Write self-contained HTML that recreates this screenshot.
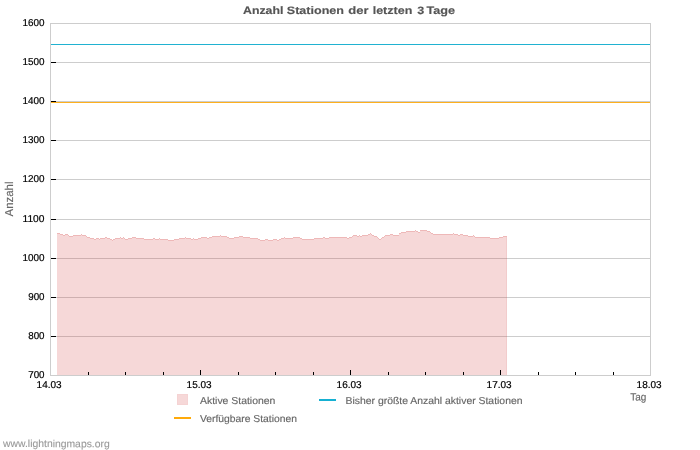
<!DOCTYPE html>
<html lang="de">
<head>
<meta charset="utf-8">
<title>Anzahl Stationen der letzten 3 Tage</title>
<style>
html,body{margin:0;padding:0;background:#fff;}
body{width:700px;height:450px;overflow:hidden;font-family:"Liberation Sans",sans-serif;}
svg{display:block;will-change:transform;}
</style>
</head>
<body>
<svg width="700" height="450" viewBox="0 0 700 450">
<rect width="700" height="450" fill="#fff"/>
<g shape-rendering="crispEdges">
<rect x="50.5" y="23.5" width="600" height="352" fill="none" stroke="#cdcdcd" stroke-width="1"/>
<rect x="56" y="62" width="594" height="1" fill="#cdcdcd"/>
<rect x="56" y="101" width="594" height="1" fill="#cdcdcd"/>
<rect x="56" y="140" width="594" height="1" fill="#cdcdcd"/>
<rect x="56" y="179" width="594" height="1" fill="#cdcdcd"/>
<rect x="56" y="219" width="594" height="1" fill="#cdcdcd"/>
<rect x="56" y="258" width="594" height="1" fill="#cdcdcd"/>
<rect x="56" y="297" width="594" height="1" fill="#cdcdcd"/>
<rect x="56" y="336" width="594" height="1" fill="#cdcdcd"/>
<path d="M57 375V233H60V234H63V235H65V234H68V235H69V236H73V235H81V234H82V235H86V236H87V237H90V238H94V239H96V238H99V239H100V238H105V237H107V238H110V239H112V240H113V239H115V238H120V237H121V238H123V237H124V238H125V239H128V238H132V237H136V238H144V239H153V238H155V239H159V238H160V239H168V240H174V239H179V238H185V237H186V238H191V239H193V238H194V239H198V238H201V237H207V238H209V237H212V236H220V235H221V236H227V237H229V238H234V237H239V236H243V237H250V238H258V239H260V240H265V239H268V240H273V239H277V240H279V239H281V238H284V237H285V238H293V237H300V238H302V239H314V238H323V237H325V238H329V237H347V238H349V237H352V236H353V235H357V236H359V235H360V236H362V235H368V234H370V233H371V234H372V235H374V236H377V237H378V238H379V239H381V238H382V237H384V236H385V235H390V234H393V235H399V233H401V232H406V231H415V230H416V231H418V232H420V230H427V231H430V232H431V233H433V234H453V233H454V234H458V235H460V234H463V235H468V236H473V235H474V236H475V237H490V238H499V237H503V236H507V375Z" fill="#d23c3c" fill-opacity="0.2"/>
<path d="M57 233h3v1h-3zM60 234h3v1h-3zM63 235h2v1h-2zM65 234h3v1h-3zM68 235h1v1h-1zM69 236h4v1h-4zM73 235h8v1h-8zM81 234h1v1h-1zM82 235h4v1h-4zM86 236h1v1h-1zM87 237h3v1h-3zM90 238h4v1h-4zM94 239h2v1h-2zM96 238h3v1h-3zM99 239h1v1h-1zM100 238h5v1h-5zM105 237h2v1h-2zM107 238h3v1h-3zM110 239h2v1h-2zM112 240h1v1h-1zM113 239h2v1h-2zM115 238h5v1h-5zM120 237h1v1h-1zM121 238h2v1h-2zM123 237h1v1h-1zM124 238h1v1h-1zM125 239h3v1h-3zM128 238h4v1h-4zM132 237h4v1h-4zM136 238h8v1h-8zM144 239h9v1h-9zM153 238h2v1h-2zM155 239h4v1h-4zM159 238h1v1h-1zM160 239h8v1h-8zM168 240h6v1h-6zM174 239h5v1h-5zM179 238h6v1h-6zM185 237h1v1h-1zM186 238h5v1h-5zM191 239h2v1h-2zM193 238h1v1h-1zM194 239h4v1h-4zM198 238h3v1h-3zM201 237h6v1h-6zM207 238h2v1h-2zM209 237h3v1h-3zM212 236h8v1h-8zM220 235h1v1h-1zM221 236h6v1h-6zM227 237h2v1h-2zM229 238h5v1h-5zM234 237h5v1h-5zM239 236h4v1h-4zM243 237h7v1h-7zM250 238h8v1h-8zM258 239h2v1h-2zM260 240h5v1h-5zM265 239h3v1h-3zM268 240h5v1h-5zM273 239h4v1h-4zM277 240h2v1h-2zM279 239h2v1h-2zM281 238h3v1h-3zM284 237h1v1h-1zM285 238h8v1h-8zM293 237h7v1h-7zM300 238h2v1h-2zM302 239h12v1h-12zM314 238h9v1h-9zM323 237h2v1h-2zM325 238h4v1h-4zM329 237h18v1h-18zM347 238h2v1h-2zM349 237h3v1h-3zM352 236h1v1h-1zM353 235h4v1h-4zM357 236h2v1h-2zM359 235h1v1h-1zM360 236h2v1h-2zM362 235h6v1h-6zM368 234h2v1h-2zM370 233h1v1h-1zM371 234h1v1h-1zM372 235h2v1h-2zM374 236h3v1h-3zM377 237h1v1h-1zM378 238h1v1h-1zM379 239h2v1h-2zM381 238h1v1h-1zM382 237h2v1h-2zM384 236h1v1h-1zM385 235h5v1h-5zM390 234h3v1h-3zM393 235h6v1h-6zM399 233h2v1h-2zM401 232h5v1h-5zM406 231h9v1h-9zM415 230h1v1h-1zM416 231h2v1h-2zM418 232h2v1h-2zM420 230h7v1h-7zM427 231h3v1h-3zM430 232h1v1h-1zM431 233h2v1h-2zM433 234h20v1h-20zM453 233h1v1h-1zM454 234h4v1h-4zM458 235h2v1h-2zM460 234h3v1h-3zM463 235h5v1h-5zM468 236h5v1h-5zM473 235h1v1h-1zM474 236h1v1h-1zM475 237h15v1h-15zM490 238h9v1h-9zM499 237h4v1h-4zM503 236h4v1h-4z" fill="#d23c3c" fill-opacity="0.2"/>
<rect x="506" y="237" width="1" height="138" fill="#d23c3c" fill-opacity="0.08"/>
<rect x="51" y="44" width="599" height="1" fill="#20b2d1"/>
<rect x="51" y="102" width="599" height="1" fill="#fdb01e"/>
<rect x="51" y="62" width="5" height="1" fill="#000"/>
<rect x="51" y="101" width="5" height="1" fill="#000"/>
<rect x="51" y="140" width="5" height="1" fill="#000"/>
<rect x="51" y="179" width="5" height="1" fill="#000"/>
<rect x="51" y="219" width="5" height="1" fill="#000"/>
<rect x="51" y="258" width="5" height="1" fill="#000"/>
<rect x="51" y="297" width="5" height="1" fill="#000"/>
<rect x="51" y="336" width="5" height="1" fill="#000"/>
<rect x="88" y="372" width="1" height="3" fill="#000"/>
<rect x="125" y="372" width="1" height="3" fill="#000"/>
<rect x="163" y="372" width="1" height="3" fill="#000"/>
<rect x="200" y="370" width="1" height="5" fill="#000"/>
<rect x="238" y="372" width="1" height="3" fill="#000"/>
<rect x="275" y="372" width="1" height="3" fill="#000"/>
<rect x="313" y="372" width="1" height="3" fill="#000"/>
<rect x="350" y="370" width="1" height="5" fill="#000"/>
<rect x="388" y="372" width="1" height="3" fill="#000"/>
<rect x="425" y="372" width="1" height="3" fill="#000"/>
<rect x="463" y="372" width="1" height="3" fill="#000"/>
<rect x="500" y="370" width="1" height="5" fill="#000"/>
<rect x="538" y="372" width="1" height="3" fill="#000"/>
<rect x="575" y="372" width="1" height="3" fill="#000"/>
<rect x="613" y="372" width="1" height="3" fill="#000"/>
<rect x="177" y="394" width="11" height="11" fill="#f5d3d3"/><rect x="178" y="395" width="9" height="9" fill="#f6d8d8"/>
<rect x="174" y="417" width="17" height="2" fill="#ffaa0a"/>
<rect x="319" y="399" width="17" height="2" fill="#16b0d2"/>
</g>
<g font-family="'Liberation Sans', sans-serif">
<text transform="translate(0 13.8) rotate(0.03)" font-size="10.8" font-weight="bold" fill="#555" stroke="#555" stroke-width="0.15"><tspan x="243.0" textLength="40.4" lengthAdjust="spacingAndGlyphs">Anzahl</tspan> <tspan x="286.8" textLength="57.2" lengthAdjust="spacingAndGlyphs">Stationen</tspan> <tspan x="348.2" textLength="20.3" lengthAdjust="spacingAndGlyphs">der</tspan> <tspan x="372.7" textLength="39.6" lengthAdjust="spacingAndGlyphs">letzten</tspan> <tspan x="417.2" textLength="7.0" lengthAdjust="spacingAndGlyphs">3</tspan> <tspan x="426.4" textLength="28.6" lengthAdjust="spacingAndGlyphs">Tage</tspan></text>
<text transform="translate(22.5 26) rotate(0.03)" font-size="10" fill="#000" stroke="#000" stroke-width="0.2" textLength="22.0" lengthAdjust="spacingAndGlyphs">1600</text>
<text transform="translate(22.5 65) rotate(0.03)" font-size="10" fill="#000" stroke="#000" stroke-width="0.2" textLength="22.0" lengthAdjust="spacingAndGlyphs">1500</text>
<text transform="translate(22.5 104) rotate(0.03)" font-size="10" fill="#000" stroke="#000" stroke-width="0.2" textLength="22.0" lengthAdjust="spacingAndGlyphs">1400</text>
<text transform="translate(22.5 143) rotate(0.03)" font-size="10" fill="#000" stroke="#000" stroke-width="0.2" textLength="22.0" lengthAdjust="spacingAndGlyphs">1300</text>
<text transform="translate(22.5 182) rotate(0.03)" font-size="10" fill="#000" stroke="#000" stroke-width="0.2" textLength="22.0" lengthAdjust="spacingAndGlyphs">1200</text>
<text transform="translate(22.5 222) rotate(0.03)" font-size="10" fill="#000" stroke="#000" stroke-width="0.2" textLength="22.0" lengthAdjust="spacingAndGlyphs">1100</text>
<text transform="translate(22.5 261) rotate(0.03)" font-size="10" fill="#000" stroke="#000" stroke-width="0.2" textLength="22.0" lengthAdjust="spacingAndGlyphs">1000</text>
<text transform="translate(28.2 300) rotate(0.03)" font-size="10" fill="#000" stroke="#000" stroke-width="0.2" textLength="16.3" lengthAdjust="spacingAndGlyphs">900</text>
<text transform="translate(28.2 339) rotate(0.03)" font-size="10" fill="#000" stroke="#000" stroke-width="0.2" textLength="16.3" lengthAdjust="spacingAndGlyphs">800</text>
<text transform="translate(28.2 378) rotate(0.03)" font-size="10" fill="#000" stroke="#000" stroke-width="0.2" textLength="16.3" lengthAdjust="spacingAndGlyphs">700</text>
<text transform="translate(36.6 388) rotate(0.03)" font-size="10" fill="#000" stroke="#000" stroke-width="0.2" textLength="25" lengthAdjust="spacingAndGlyphs">14.03</text>
<text transform="translate(186.6 388) rotate(0.03)" font-size="10" fill="#000" stroke="#000" stroke-width="0.2" textLength="25" lengthAdjust="spacingAndGlyphs">15.03</text>
<text transform="translate(336.6 388) rotate(0.03)" font-size="10" fill="#000" stroke="#000" stroke-width="0.2" textLength="25" lengthAdjust="spacingAndGlyphs">16.03</text>
<text transform="translate(486.6 388) rotate(0.03)" font-size="10" fill="#000" stroke="#000" stroke-width="0.2" textLength="25" lengthAdjust="spacingAndGlyphs">17.03</text>
<text transform="translate(636.6 388) rotate(0.03)" font-size="10" fill="#000" stroke="#000" stroke-width="0.2" textLength="25" lengthAdjust="spacingAndGlyphs">18.03</text>
<text transform="translate(630.3 400.6) rotate(0.03)" font-size="10.5" fill="#666" stroke="#666" stroke-width="0.15" textLength="16.1" lengthAdjust="spacingAndGlyphs">Tag</text>
<text transform="translate(13.0 216.5) rotate(-90.03)" font-size="11.4" fill="#666" stroke="#666" stroke-width="0.15" textLength="35.0" lengthAdjust="spacingAndGlyphs">Anzahl</text>
<text transform="translate(200 404) rotate(0.03)" font-size="10" fill="#666" stroke="#666" stroke-width="0.15" textLength="75.4" lengthAdjust="spacingAndGlyphs">Aktive Stationen</text>
<text transform="translate(200 422) rotate(0.03)" font-size="10" fill="#666" stroke="#666" stroke-width="0.15" textLength="97" lengthAdjust="spacingAndGlyphs">Verfügbare Stationen</text>
<text transform="translate(345.5 404) rotate(0.03)" font-size="10" fill="#666" stroke="#666" stroke-width="0.15" textLength="177" lengthAdjust="spacingAndGlyphs">Bisher größte Anzahl aktiver Stationen</text>
<text transform="translate(3.1 447.1) rotate(0.03)" font-size="10.4" fill="#999" stroke="#999" stroke-width="0.1" textLength="106.6" lengthAdjust="spacingAndGlyphs">www.lightningmaps.org</text>
</g>
</svg>
</body>
</html>
